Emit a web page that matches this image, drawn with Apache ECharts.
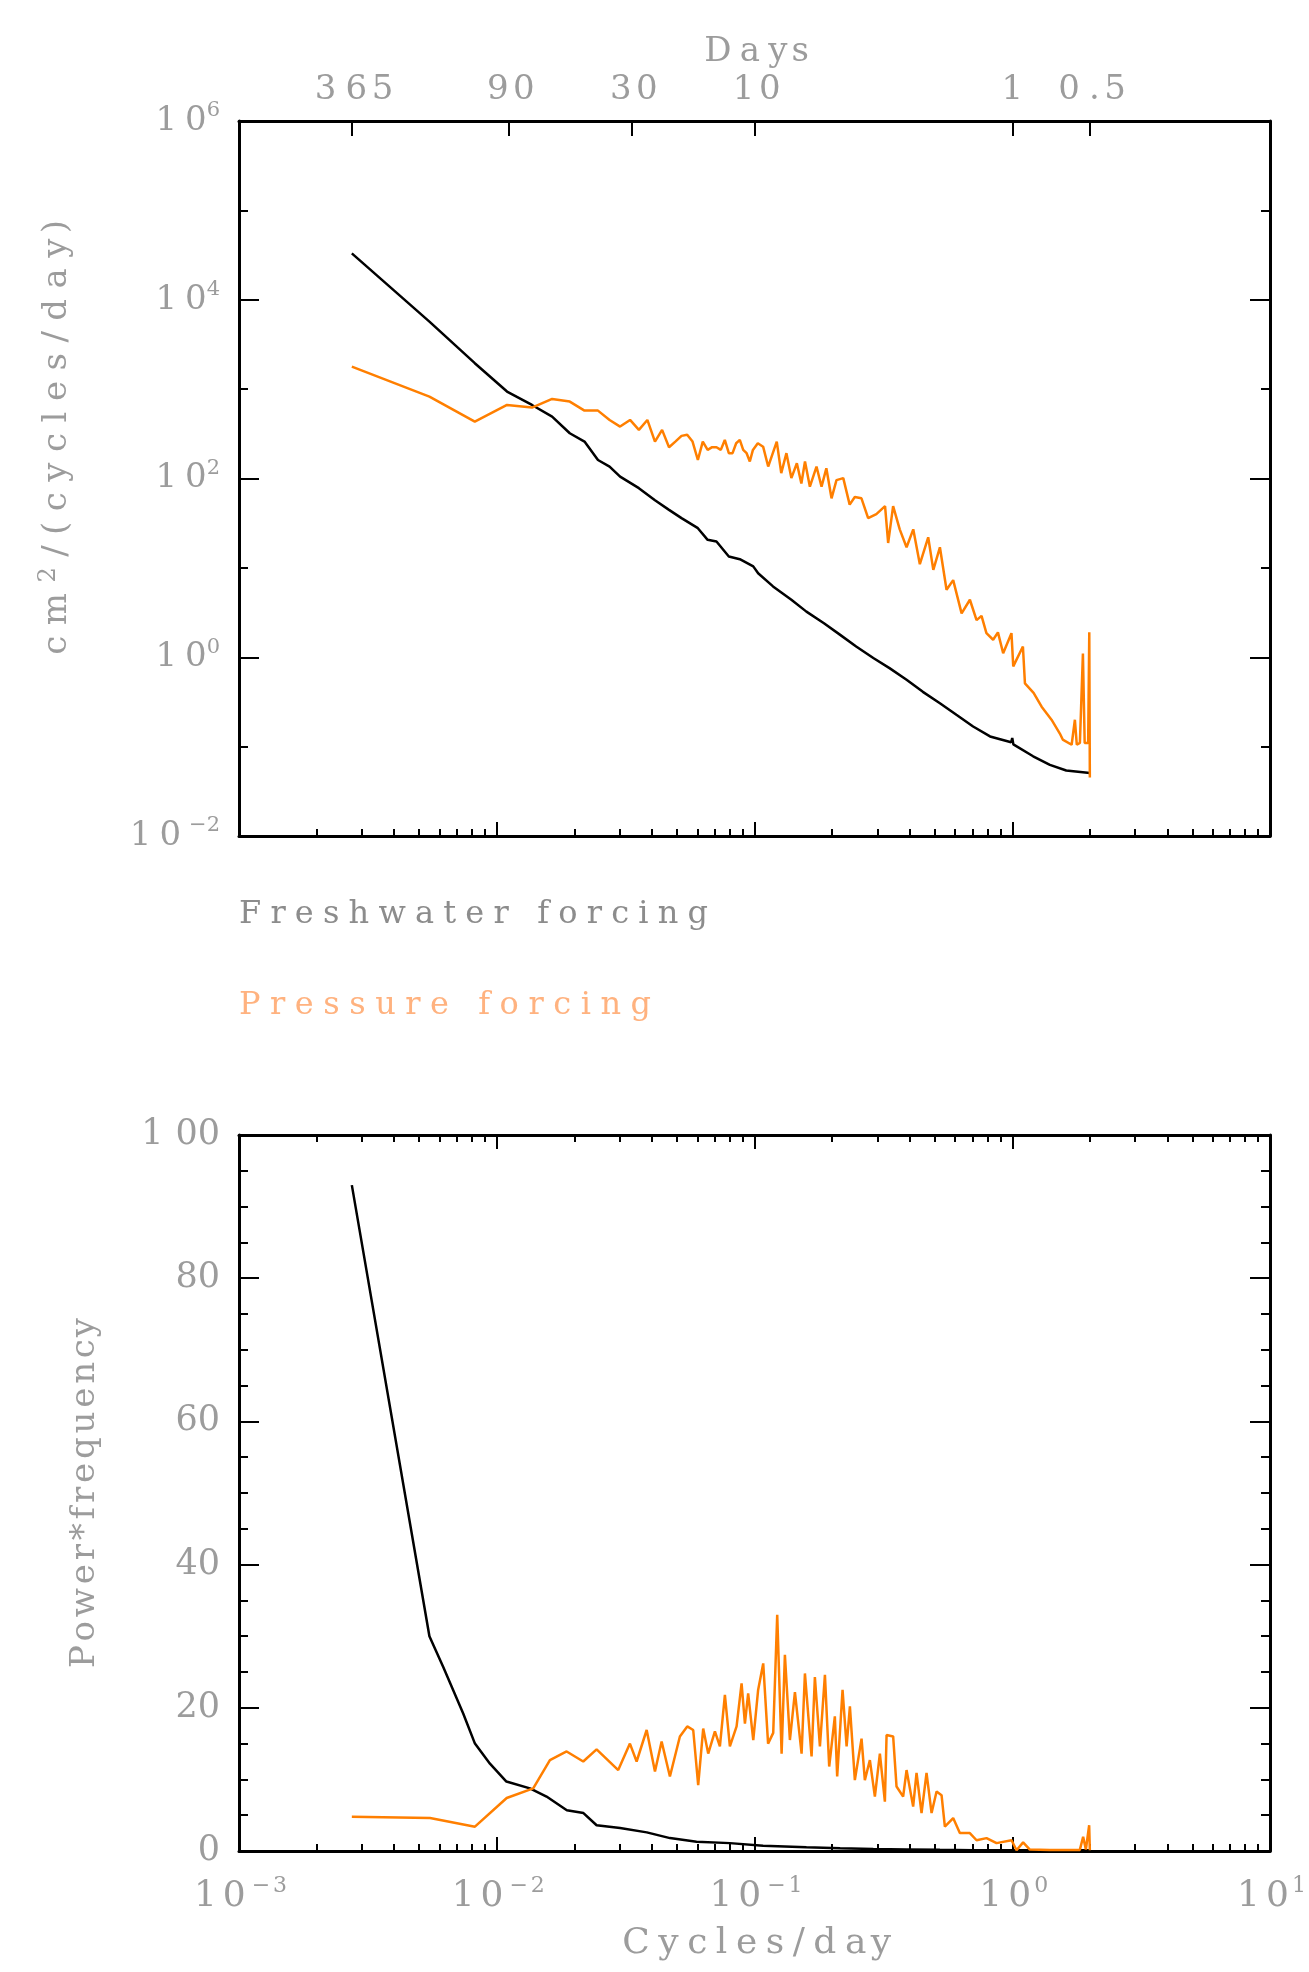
<!DOCTYPE html>
<html>
<head>
<meta charset="utf-8">
<script src="https://cdn.jsdelivr.net/npm/echarts@6/dist/echarts.min.js"></script>
<style>
  html, body { margin: 0; padding: 0; background: #fff; }
  #main { width: 1309px; height: 1972px; }
</style>
</head>
<body>
<div id="main"></div>
<script>
// spectra: [cycles/day, value]
const topFresh = [
  [0.00274, 33000], [0.00548, 5700], [0.00822, 1950], [0.01096, 940], [0.0137, 665],
  [0.0164, 493], [0.0192, 321], [0.0219, 259], [0.0247, 161], [0.0274, 136],
  [0.0301, 105], [0.0356, 78], [0.0411, 57], [0.0466, 44.6], [0.0521, 36],
  [0.0603, 27.8], [0.0658, 20.6], [0.0712, 19.7], [0.0795, 13.4], [0.0877, 12.5],
  [0.0989, 10.4], [0.1033, 8.7], [0.118, 6.2], [0.139, 4.4], [0.159, 3.24],
  [0.186, 2.4], [0.215, 1.78], [0.248, 1.32], [0.289, 0.98], [0.334, 0.755],
  [0.389, 0.56], [0.45, 0.41], [0.524, 0.306], [0.607, 0.227], [0.705, 0.168],
  [0.82, 0.13], [0.99, 0.112], [1.0, 0.125], [1.01, 0.106], [1.205, 0.078],
  [1.4, 0.0625], [1.62, 0.054], [2.0, 0.0506]
]
const topPress = [
  [0.00274, 1786], [0.00548, 824], [0.00822, 433], [0.01096, 665], [0.0137, 621],
  [0.0164, 776], [0.0192, 725], [0.0219, 575], [0.0247, 575], [0.0274, 452],
  [0.0301, 381], [0.0329, 452], [0.0356, 350], [0.0384, 452], [0.0411, 259],
  [0.0438, 350], [0.0466, 224], [0.0493, 259], [0.0521, 300], [0.0548, 308],
  [0.0575, 259], [0.0603, 161], [0.063, 259], [0.0658, 209], [0.0685, 224],
  [0.0712, 224], [0.074, 209], [0.0767, 270], [0.0795, 192], [0.0822, 192],
  [0.0849, 248], [0.0877, 270], [0.0904, 209], [0.0932, 192], [0.0959, 155],
  [0.0986, 209], [0.103, 248], [0.108, 227], [0.113, 136], [0.122, 259],
  [0.127, 115], [0.133, 192], [0.139, 101], [0.146, 148], [0.152, 88],
  [0.157, 155], [0.164, 81], [0.174, 136], [0.182, 81], [0.19, 130],
  [0.199, 60], [0.208, 96], [0.221, 101], [0.234, 51], [0.245, 62],
  [0.26, 60], [0.276, 36], [0.297, 40], [0.321, 49], [0.33, 19],
  [0.345, 49], [0.366, 27], [0.389, 17], [0.413, 27], [0.438, 11],
  [0.472, 22], [0.494, 9.5], [0.524, 17], [0.556, 5.7], [0.59, 7.3],
  [0.636, 3.1], [0.685, 4.4], [0.727, 2.6], [0.76, 2.9], [0.794, 1.86],
  [0.843, 1.57], [0.88, 1.9], [0.922, 1.11], [0.993, 1.86], [1.009, 0.79],
  [1.1, 1.32], [1.12, 0.51], [1.21, 0.4], [1.3, 0.28], [1.42, 0.2],
  [1.53, 0.14], [1.57, 0.12], [1.7, 0.105], [1.75, 0.2], [1.78, 0.105],
  [1.83, 0.11], [1.88, 1.1], [1.91, 0.11], [1.97, 0.11], [1.99, 1.9], [2.0, 0.045]
]
const botFresh = [
  [0.00274, 93], [0.00548, 30], [0.0062, 25.7], [0.00741, 19.2], [0.00823, 15.0],
  [0.00941, 12.2], [0.0109, 9.7], [0.01345, 8.75], [0.0156, 7.6], [0.0187, 5.7],
  [0.0217, 5.3], [0.0244, 3.6], [0.0301, 3.2], [0.0382, 2.6], [0.047, 1.8],
  [0.0596, 1.3], [0.0803, 1.1], [0.108, 0.75], [0.159, 0.51], [0.215, 0.38],
  [0.289, 0.28], [0.389, 0.22], [0.524, 0.16], [0.705, 0.12], [1.0, 0.11], [2.0, 0.1]
]
const botPress = [
  [0.00274, 4.8], [0.00551, 4.6], [0.00823, 3.4], [0.01093, 7.4], [0.01385, 8.75],
  [0.01608, 12.7], [0.01867, 13.9], [0.02165, 12.5], [0.0244, 14.2], [0.0296, 11.3],
  [0.03286, 15.0], [0.03489, 12.5], [0.03816, 16.9], [0.0411, 11.1], [0.04362, 15.3],
  [0.04697, 10.4], [0.05135, 16.0], [0.05483, 17.4], [0.05784, 16.9], [0.06047, 9.2],
  [0.06324, 17.1], [0.06613, 13.6], [0.07021, 16.7], [0.07341, 14.6], [0.07676, 21.8],
  [0.08026, 14.6], [0.08521, 17.4], [0.0891, 23.4], [0.0918, 17.8], [0.0945, 22.0],
  [0.0989, 15.5], [0.1033, 22.5], [0.1081, 26.2], [0.1129, 15.0], [0.1182, 16.5],
  [0.1225, 33.0], [0.1274, 13.6], [0.1312, 27.4], [0.1372, 15.5], [0.1435, 22.2],
  [0.1523, 13.6], [0.1569, 24.8], [0.1665, 13.2], [0.1715, 24.3], [0.1794, 14.6],
  [0.1876, 24.6], [0.1949, 11.8], [0.205, 18.8], [0.2093, 10.4], [0.2196, 22.5],
  [0.2277, 14.6], [0.2345, 20.2], [0.2451, 9.9], [0.2602, 15.7], [0.268, 9.9],
  [0.2803, 12.7], [0.2931, 7.6], [0.3065, 13.6], [0.3205, 6.9], [0.3254, 16.2],
  [0.3451, 16.0], [0.3557, 9.0], [0.3773, 7.6], [0.389, 11.3], [0.4126, 6.2],
  [0.4253, 10.9], [0.4447, 5.3], [0.465, 10.9], [0.4864, 5.3], [0.5086, 8.3],
  [0.5318, 7.8], [0.5477, 3.4], [0.5899, 4.6], [0.6262, 2.5], [0.6846, 2.5],
  [0.727, 1.5], [0.7948, 1.8], [0.8691, 1.1], [0.9938, 1.5], [1.039, 0.1],
  [1.102, 1.2], [1.17, 0.2], [1.4, 0.15], [1.829, 0.15], [1.884, 2.0],
  [1.93, 0.2], [1.988, 3.6], [2.0, 0.1]
]

// tick labels
const dayTicks = ['365', '90', '30', '10', '1', '0.5']
const powerExps = [-2, 0, 2, 4, 6]
const freqExps = [-3, -2, -1, 0, 1]
const pfTicks = [0, 20, 40, 60, 80, 100]

const FONT = 'DejaVu Serif'
const GREY = '#9c9c9c'
const BLACK = '#000'
const ORANGE = '#ff7f00'

// IDL-style widely spaced lettering: every glyph is its own rich token
const rich = {}
const keyOf = {}
const meas = document.createElement('canvas').getContext('2d')
const natural = (ch, size) => {
  meas.font = size + 'px "' + FONT + '"'
  return meas.measureText(ch).width
}
const styleKey = (ch, size, w, sup) => {
  const id = [ch, size, w.toFixed(1), sup ? 1 : 0].join('_')
  if (!keyOf[id]) {
    const k = 'k' + Object.keys(keyOf).length
    keyOf[id] = k
    rich[k] = sup
      ? { fontFamily: FONT, fontSize: size, width: w, lineHeight: size, verticalAlign: 'top' }
      : { fontFamily: FONT, fontSize: size, width: w, lineHeight: Math.round(size * 1.2), verticalAlign: 'middle' }
  }
  return keyOf[id]
}
const spaced = (parts, gap) => {
  const chars = []
  parts.forEach(([t, size, sup]) => { for (const ch of t) chars.push([ch, size, sup]) })
  return chars.map(([ch, size, sup], i) => {
    const w = natural(ch, size) + (i < chars.length - 1 ? gap : 0)
    return '{' + styleKey(ch, size, w, sup) + '|' + ch + '}'
  }).join('')
}
const fitted = (parts, target) => {
  let nat = 0, n = 0
  parts.forEach(([t, size]) => { for (const ch of t) { nat += natural(ch, size); n++ } })
  return spaced(parts, (target - nat) / (n - 1))
}

const dayPos = dayTicks.map(d => -Math.log10(+d))
const dayText = dayTicks.map(d => spaced([[d, 34]], 9))
const powText = {}
powerExps.forEach(e => { powText[e] = spaced([['10', 34], [String(e).replace('-', '−'), 21, true]], 8) })
const freqText = {}
freqExps.forEach(e => { freqText[e] = spaced([['10', 36], [String(e).replace('-', '−'), 22, true]], 6) })
const pfText = {}
pfTicks.forEach(v => { pfText[v] = spaced([[String(v), 35]], 12) })
const legendText = {
  'Freshwater forcing': fitted([['Freshwater forcing', 32]], 469),
  'Pressure forcing': fitted([['Pressure forcing', 32]], 412)
}
const daysName = fitted([['Days', 34]], 109)
const cyclesName = fitted([['Cycles/day', 36]], 273)
const psdName = fitted([['cm', 34], ['2', 24, true], ['/(cycles/day)', 34]], 440)
const pfName = fitted([['Power*frequency', 34]], 352)

// minor tick positions of a log decade axis, in log10 units
const minorLogs = []
for (let d = -3; d < 1; d++) for (let k = 2; k <= 9; k++) minorLogs.push(d + Math.log10(k))

const boxLine = { show: true, onZero: false, lineStyle: { color: BLACK, width: 3 } }
const noLine = { show: false, onZero: false }
const tickStyle = { color: BLACK, width: 2 }
const noLabel = { show: false }
const noSplit = { show: false }

const chart = echarts.init(document.getElementById('main'), null, { renderer: 'canvas' })

const logX = (grid, extra) => Object.assign({
  type: 'log', logBase: 10, gridIndex: grid, min: 0.001, max: 10, position: 'bottom',
  axisLine: boxLine, axisTick: { inside: true, length: 14, lineStyle: tickStyle },
  axisLabel: noLabel, splitLine: noSplit
}, extra)
const helperX = (grid, position, ticks, len, line) => ({
  type: 'value', gridIndex: grid, min: -3, max: 1, position,
  axisLine: line ? boxLine : noLine,
  axisTick: { inside: true, length: len, customValues: ticks, lineStyle: tickStyle },
  axisLabel: noLabel, splitLine: noSplit
})

const option = {
  animation: false,
  backgroundColor: '#fff',
  grid: [
    { left: 239, top: 121, width: 1031, height: 715, containLabel: false, outerBoundsMode: 'none' },
    { left: 239, top: 1135, width: 1031, height: 716, containLabel: false, outerBoundsMode: 'none' }
  ],
  legend: [
    {
      data: ['Freshwater forcing'], left: 234, top: 895, padding: 0, icon: 'none',
      itemWidth: 0, itemHeight: 40, selectedMode: false,
      formatter: name => legendText[name], textStyle: { color: '#8c8c8c', rich }
    },
    {
      data: ['Pressure forcing'], left: 234, top: 986, padding: 0, icon: 'none',
      itemWidth: 0, itemHeight: 40, selectedMode: false,
      formatter: name => legendText[name], textStyle: { color: '#ffb27f', rich }
    }
  ],
  xAxis: [
    // top panel
    logX(0),
    helperX(0, 'bottom', minorLogs, 7, false),
    {
      type: 'value', gridIndex: 0, min: -3, max: 1, position: 'top',
      axisLine: boxLine,
      axisTick: { inside: true, length: 15, customValues: dayPos, lineStyle: tickStyle },
      axisLabel: {
        customValues: dayPos, margin: 10, color: GREY, rich,
        formatter: v => dayText[dayPos.findIndex(p => Math.abs(p - v) < 1e-6)]
      },
      splitLine: noSplit,
      name: daysName, nameLocation: 'middle', nameGap: 48,
      nameTextStyle: { color: GREY, rich }
    },
    // bottom panel
    logX(1, {
      axisLabel: {
        margin: 24, color: GREY, rich,
        formatter: v => freqText[Math.round(Math.log10(v))]
      },
      name: cyclesName, nameLocation: 'middle', nameGap: 71,
      nameTextStyle: { color: GREY, rich }
    }),
    helperX(1, 'bottom', minorLogs, 7, false),
    helperX(1, 'top', freqExps, 14, true),
    helperX(1, 'top', minorLogs, 7, false)
  ],
  yAxis: [
    {
      type: 'log', logBase: 10, gridIndex: 0, min: 0.01, max: 1e6, position: 'left',
      axisLine: boxLine, axisTick: { show: false }, axisLabel: noLabel, splitLine: noSplit
    },
    {
      type: 'value', gridIndex: 0, min: -2, max: 6, interval: 2, position: 'left',
      axisLine: noLine,
      axisTick: { inside: true, length: 20, lineStyle: tickStyle },
      minorTick: { show: true, splitNumber: 2, length: 9, lineStyle: tickStyle },
      axisLabel: { margin: 19, color: GREY, rich, formatter: v => powText[v] },
      splitLine: noSplit, minorSplitLine: noSplit
    },
    {
      type: 'value', gridIndex: 0, min: -2, max: 6, interval: 2, position: 'right',
      axisLine: boxLine,
      axisTick: { inside: true, length: 20, lineStyle: tickStyle },
      minorTick: { show: true, splitNumber: 2, length: 9, lineStyle: tickStyle },
      axisLabel: noLabel, splitLine: noSplit, minorSplitLine: noSplit
    },
    {
      type: 'value', gridIndex: 1, min: 0, max: 100, interval: 20, position: 'left',
      axisLine: boxLine,
      axisTick: { inside: true, length: 20, lineStyle: tickStyle },
      minorTick: { show: true, splitNumber: 4, length: 9, lineStyle: tickStyle },
      axisLabel: { margin: 19, color: GREY, rich, formatter: v => pfText[v] },
      splitLine: noSplit, minorSplitLine: noSplit
    },
    {
      type: 'value', gridIndex: 1, min: 0, max: 100, interval: 20, position: 'right',
      axisLine: boxLine,
      axisTick: { inside: true, length: 20, lineStyle: tickStyle },
      minorTick: { show: true, splitNumber: 4, length: 9, lineStyle: tickStyle },
      axisLabel: noLabel, splitLine: noSplit, minorSplitLine: noSplit
    }
  ],
  graphic: [
    {
      type: 'text', x: 57, y: 440, rotation: Math.PI / 2,
      style: { text: psdName, rich, fill: GREY, align: 'center', verticalAlign: 'middle' }
    },
    {
      type: 'text', x: 85, y: 1494, rotation: Math.PI / 2,
      style: { text: pfName, rich, fill: GREY, align: 'center', verticalAlign: 'middle' }
    }
  ],
  series: [
    {
      name: 'Freshwater forcing', type: 'line', xAxisIndex: 0, yAxisIndex: 0, data: topFresh,
      showSymbol: false, symbol: 'none', lineStyle: { color: BLACK, width: 2.5 }, itemStyle: { color: BLACK }
    },
    {
      name: 'Pressure forcing', type: 'line', xAxisIndex: 0, yAxisIndex: 0, data: topPress,
      showSymbol: false, symbol: 'none', lineStyle: { color: ORANGE, width: 2.5 }, itemStyle: { color: ORANGE }
    },
    {
      name: 'Freshwater forcing', type: 'line', xAxisIndex: 3, yAxisIndex: 3, data: botFresh,
      showSymbol: false, symbol: 'none', lineStyle: { color: BLACK, width: 2.5 }, itemStyle: { color: BLACK }
    },
    {
      name: 'Pressure forcing', type: 'line', xAxisIndex: 3, yAxisIndex: 3, data: botPress,
      showSymbol: false, symbol: 'none', lineStyle: { color: ORANGE, width: 2.5 }, itemStyle: { color: ORANGE }
    }
  ]
}

chart.setOption(option)
</script>
</body>
</html>
